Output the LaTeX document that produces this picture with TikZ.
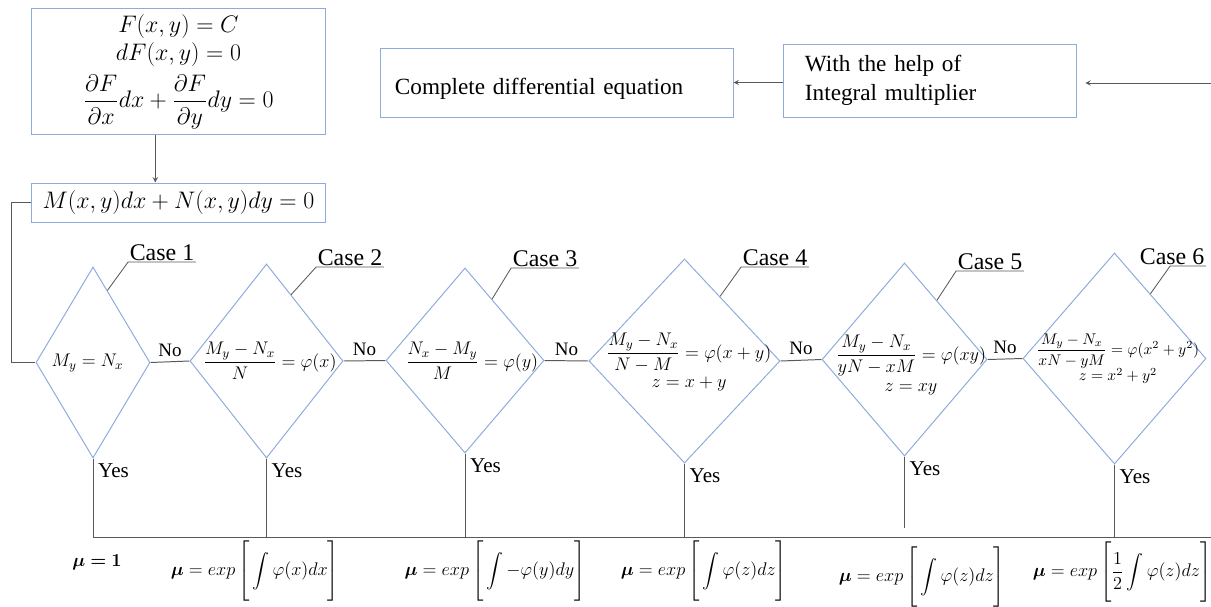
\RequirePackage{fix-cm}
\documentclass[tikz,border=0pt]{standalone}
\usepackage{amsmath}
\usepackage{bm}
\usepackage{fontspec}
\setmainfont{Liberation Serif}
\usepackage{tikz}
\usetikzlibrary{shapes.geometric, arrows, positioning, calc}

\definecolor{boxblue}{RGB}{143,170,220}
\definecolor{linegray}{RGB}{89,89,89}

\begin{document}
\begin{tikzpicture}[
    x=0.025cm, y=-0.025cm,
    mathbox/.style={rectangle, draw=boxblue, line width=0.7pt, align=center, font=\fontsize{17}{20.4}\selectfont},
    txtbox/.style={rectangle, draw=boxblue, line width=0.7pt, align=left, font=\fontsize{16.5}{21}\selectfont},
    cond/.style={diamond, draw=boxblue, line width=0.7pt, inner sep=0pt},
    condtxt/.style={inner sep=0pt, font=\fontsize{13}{16}\selectfont},
    casetxt/.style={anchor=south, inner sep=1pt, font=\fontsize{17}{20}\selectfont},
    lead/.style={draw=linegray, line width=0.6pt},
    conn/.style={draw=linegray, line width=0.7pt},
    arrow/.style={->, >=stealth, draw=linegray, line width=0.7pt},
    nolbl/.style={font=\fontsize{13.5}{16}\selectfont},
    yes/.style={anchor=north west, font=\fontsize{15}{18}\selectfont},
    mures/.style={inner sep=0pt, font=\fontsize{13}{16}\selectfont}
]
    \useasboundingbox (0,0) rectangle (1211,606);

    \node[mathbox, minimum width=7.325cm, minimum height=3.125cm] (fxy) at (178.5,71.5)
        {$F(x,y)=C$\\ $dF(x,y)=0$\\[5pt] $\dfrac{\partial F}{\partial x}dx+\dfrac{\partial F}{\partial y}dy=0$};
    \node[mathbox, minimum width=7.325cm, minimum height=0.975cm] (mn) at (178.5,202.5)
        {$M(x,y)dx+N(x,y)dy=0$};
    \node[txtbox, text width=8.1cm, inner xsep=0.35cm, minimum height=1.725cm, text height=0.68cm, text depth=0.1cm] (cde) at (557,82.5)
        {Complete differential equation};
    \node[txtbox, text width=6.25cm, inner xsep=0.525cm, minimum height=1.825cm] (help) at (930,80.5)
        {With the help of\\ Integral multiplier};
    \coordinate (rin) at (1211,83);

    \node[cond, minimum width=2.85cm, minimum height=4.775cm] (d1) at (93,362.5) {};
    \node[cond, minimum width=3.825cm, minimum height=4.85cm] (d2) at (266.5,361) {};
    \node[cond, minimum width=3.95cm, minimum height=4.625cm] (d3) at (465,360.5) {};
    \node[cond, minimum width=4.775cm, minimum height=5.1cm] (d4) at (684.5,361) {};
    \node[cond, minimum width=4.125cm, minimum height=4.825cm] (d5) at (904.5,359.5) {};
    \node[cond, minimum width=4.575cm, minimum height=5.275cm] (d6) at (1114.5,358.5) {};

    \node[condtxt] (t1) at (87.5,363) {$M_y=N_x$};
    \node[condtxt] (t2) at (270,361) {$\dfrac{M_y-N_x}{N}=\varphi(x)$};
    \node[condtxt] (t3) at (472,361) {$\dfrac{N_x-M_y}{M}=\varphi(y)$};
    \node[condtxt] (t4) at (689,364)
        {$\begin{array}{c}\dfrac{M_y-N_x}{N-M}=\varphi(x+y)\\[3pt] z=x+y\end{array}$};
    \node[condtxt] (t5) at (911,367)
        {$\begin{array}{c}\dfrac{M_y-N_x}{yN-xM}=\varphi(xy)\\[2pt] z=xy\end{array}$};
    \node[condtxt, font=\fontsize{11}{13}\selectfont] (t6) at (1118,360)
        {$\begin{array}{c}\dfrac{M_y-N_x}{xN-yM}=\varphi(x^2+y^2)\\[2pt] z=x^2+y^2\end{array}$};

    \node[casetxt] (c1) at (162,262) {Case 1};
    \node[casetxt] (c2) at (350,267) {Case 2};
    \node[casetxt] (c3) at (545,268) {Case 3};
    \node[casetxt] (c4) at (775,267) {Case 4};
    \node[casetxt] (c5) at (990,271) {Case 5};
    \node[casetxt] (c6) at (1172,266) {Case 6};

    \draw[lead] ($(d1.north)!0.25!(d1.east)$) -- (c1.south west) -- (c1.south east);
    \draw[lead] ($(d2.north)!0.32!(d2.east)$) -- (c2.south west) -- (c2.south east);
    \draw[lead] ($(d3.north)!0.34!(d3.east)$) -- (c3.south west) -- (c3.south east);
    \draw[lead] ($(d4.north)!0.37!(d4.east)$) -- (c4.south west) -- (c4.south east);
    \draw[lead] ($(d5.north)!0.39!(d5.east)$) -- (c5.south west) -- (c5.south east);
    \draw[lead] ($(d6.north)!0.39!(d6.east)$) -- ([xshift=0.8cm]c6.south west) -- (c6.south east);

    \node[mures] (mu1) at (97,562) {$\bm{\mu=1}$};
    \node[mures] (mu2) at (255,571)
        {$\bm{\mu}=exp\left[\rule[-1.45em]{0pt}{3.4em}\displaystyle\int\varphi(x)dx\right]$};
    \node[mures] (mu3) at (495,571)
        {$\bm{\mu}=exp\left[\rule[-1.45em]{0pt}{3.4em}\displaystyle\int-\varphi(y)dy\right]$};
    \node[mures] (mu4) at (704,571)
        {$\bm{\mu}=exp\left[\rule[-1.45em]{0pt}{3.4em}\displaystyle\int\varphi(z)dz\right]$};
    \node[mures] (mu5) at (922,577)
        {$\bm{\mu}=exp\left[\rule[-1.45em]{0pt}{3.4em}\displaystyle\int\varphi(z)dz\right]$};
    \node[mures] (mu6) at (1122,572)
        {$\bm{\mu}=exp\left[\rule[-1.45em]{0pt}{3.4em}\displaystyle\frac{1}{2}\int\varphi(z)dz\right]$};
    \coordinate (rout) at (1211,537);

    \draw[arrow] ([xshift=-0.58cm]fxy.south) -- ([xshift=-0.58cm]mn.north);
    \draw[arrow] (help.west |- cde.east) -- (cde.east);
    \draw[arrow, shorten >=0.22cm] (rin) -- (help.east |- rin);
    \draw[conn] (mn.west) -- ++(-20,0) |- (d1.west);

    \draw[conn] (d1.east) -- (d2.west) node[midway, above, nolbl] {No};
    \draw[conn] (d2.east) -- (d3.west) node[midway, above, nolbl] {No};
    \draw[conn] (d3.east) -- (d4.west) node[midway, above, nolbl] {No};
    \draw[conn] (d4.east) -- (d5.west) node[midway, above, nolbl] {No};
    \draw[conn] (d5.east) -- (d6.west) node[midway, above, nolbl] {No};

    \draw[conn] (d1.south) -- (d1.south |- rout) node[pos=0, yes] {Yes} -- (rout);
    \draw[conn] (d2.south) -- (d2.south |- rout) node[pos=0, yes] {Yes};
    \draw[conn] (d3.south) -- (d3.south |- rout) node[pos=0, yes] {Yes};
    \draw[conn] (d4.south) -- (d4.south |- rout) node[pos=0, yes] {Yes};
    \draw[conn] (d5.south) -- ($(d5.south |- rout)+(0,-9)$) node[pos=0, yes] {Yes};
    \draw[conn] (d6.south) -- (d6.south |- rout) node[pos=0, yes] {Yes};
\end{tikzpicture}
\end{document}
